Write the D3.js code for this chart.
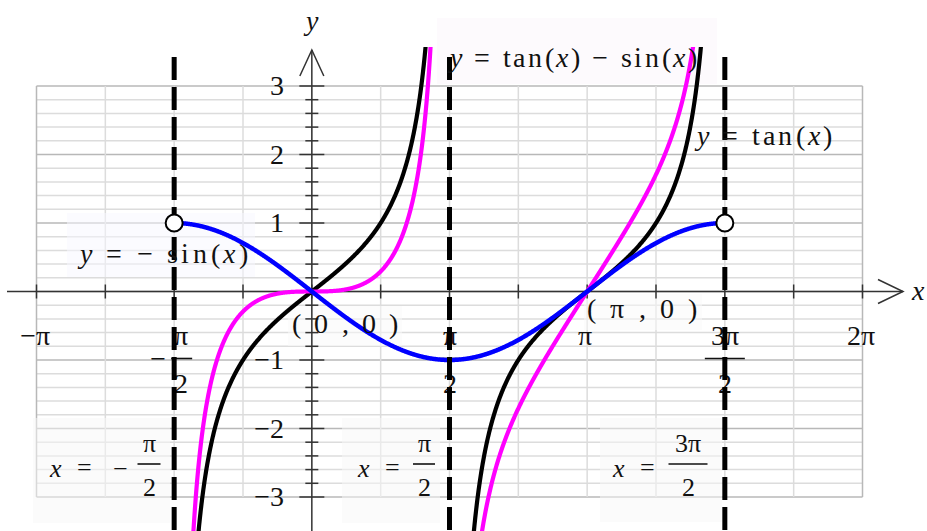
<!DOCTYPE html>
<meta charset="utf-8" />
<style>
  @font-face { font-family: "ChartSerif"; src: local("Liberation Serif"), local("LiberationSerif"), local("Times New Roman"); font-style: normal; }
  @font-face { font-family: "ChartSerif"; src: local("Liberation Serif Italic"), local("LiberationSerif-Italic"); font-style: italic; }
  body { margin: 0; }
  svg, svg text, svg tspan { font-family: "ChartSerif", "Liberation Serif", "Times New Roman", serif !important; }
</style>
<body>
<script src="https://cdn.jsdelivr.net/npm/d3@7/dist/d3.min.js"></script>
<script>
  var PI = Math.PI;

  // data
  var xDomain = [-PI, 2 * PI],
    yDomain = [-3, 3];
  var xGrid = d3.range(-4, 9).map(function(k) { return k * PI / 4; });
  var yGrid = d3.range(-15, 16).map(function(k) { return k / 5; });
  var yTickLabels = [3, 2, 1, -1, -2, -3];
  var xTickLabels = [
    { v: -PI, t: "\u2212\u03c0" },
    { v: PI, t: "\u03c0" },
    { v: 2 * PI, t: "2\u03c0" }
  ];
  var xFracLabels = [
    { v: -PI / 2, num: "\u03c0", sign: true },
    { v: PI / 2, num: "\u03c0", sign: false },
    { v: 3 * PI / 2, num: "3\u03c0", sign: false }
  ];
  var asymptotes = [-PI / 2, PI / 2, 3 * PI / 2];
  var holes = [[-PI / 2, 1], [3 * PI / 2, 1]];
  var curves = [
    { name: "tan", color: "#000000", branches: [[-PI / 2, PI / 2], [PI / 2, 3 * PI / 2]],
      f: function(x) { return Math.tan(x); } },
    { name: "tan-sin", color: "#ff00ff", branches: [[-PI / 2, PI / 2], [PI / 2, 3 * PI / 2]],
      f: function(x) { return Math.tan(x) - Math.sin(x); } },
    { name: "-sin", color: "#0000ff", branches: [[-PI / 2, 3 * PI / 2]],
      f: function(x) { return -Math.sin(x); } }
  ];

  var chartW = 927, chartH = 531;

  var xs = d3.scaleLinear().domain(xDomain).range([36.5, 862.5]);
  var ys = d3.scaleLinear().domain(yDomain).range([497, 86]);

  var svg = d3.select("body").append("svg")
    .attr("width", chartW)
    .attr("height", chartH)
    .attr("font-family", "Liberation Serif");

  svg.append("defs").append("clipPath").attr("id", "clip")
    .append("rect")
    .attr("x", 0).attr("y", 47)
    .attr("width", chartW).attr("height", chartH - 47);

  function isInt(d) { return Math.abs(d - Math.round(d)) < 1e-9; }

  // grid
  var grid = svg.append("g");
  grid.selectAll(".hg").data(yGrid).enter().append("line")
    .attr("x1", xs(xDomain[0])).attr("x2", xs(xDomain[1]))
    .attr("y1", function(d) { return ys(d); })
    .attr("y2", function(d) { return ys(d); })
    .attr("stroke", function(d) { return isInt(d) ? "#b8b8b8" : "#dcdcdc"; })
    .attr("stroke-width", 1.5);
  grid.selectAll(".vg").data(xGrid).enter().append("line")
    .attr("y1", ys(yDomain[0])).attr("y2", ys(yDomain[1]))
    .attr("x1", function(d) { return xs(d); })
    .attr("x2", function(d) { return xs(d); })
    .attr("stroke", function(d, i) { return i == 0 || i == xGrid.length - 1 ? "#b8b8b8" : "#dcdcdc"; })
    .attr("stroke-width", 1.5);

  // faint label boxes
  var boxes = [
    [437, 18, 280, 66, "#fcf5fc"],
    [67, 213, 188, 64, "#f7f7ff"],
    [288, 306, 114, 40, "#fafafa"],
    [584, 294, 118, 36, "#fafafa"],
    [33, 418, 137, 105, "#f8f8f8"],
    [342, 418, 98, 105, "#f8f8f8"],
    [600, 418, 122, 104, "#f8f8f8"]
  ];
  svg.append("g").selectAll("rect").data(boxes).enter().append("rect")
    .attr("x", function(d) { return d[0]; })
    .attr("y", function(d) { return d[1]; })
    .attr("width", function(d) { return d[2]; })
    .attr("height", function(d) { return d[3]; })
    .attr("fill", function(d) { return d[4]; })
    .attr("opacity", 0.5);

  // axes
  var axes = svg.append("g").attr("stroke", "#333").attr("fill", "none").attr("stroke-width", 1.5);
  axes.append("line").attr("x1", 7).attr("x2", 903).attr("y1", ys(0)).attr("y2", ys(0));
  axes.append("path").attr("d", "M878," + (ys(0) - 12) + "L903," + ys(0) + "L878," + (ys(0) + 12));
  axes.append("line").attr("x1", xs(0)).attr("x2", xs(0)).attr("y1", 50).attr("y2", chartH);
  axes.append("path").attr("d", "M" + (xs(0) - 12) + ",76L" + xs(0) + ",50L" + (xs(0) + 12) + ",76");

  axes.selectAll(".xt").data(xGrid).enter().append("line")
    .attr("x1", function(d) { return xs(d); })
    .attr("x2", function(d) { return xs(d); })
    .attr("y1", ys(0) - 7).attr("y2", ys(0) + 7);
  axes.selectAll(".yt").data(yGrid).enter().append("line")
    .attr("y1", function(d) { return ys(d); })
    .attr("y2", function(d) { return ys(d); })
    .attr("x1", function(d) { return xs(0) - (isInt(d) ? 12.5 : 6.5); })
    .attr("x2", function(d) { return xs(0) + (isInt(d) ? 12.5 : 6.5); });

  // tick labels
  var fs = 28;
  svg.append("g").selectAll("text").data(yTickLabels).enter().append("text")
    .attr("x", xs(0) - 28)
    .attr("y", function(d) { return ys(d) + 9; })
    .attr("text-anchor", "end")
    .attr("font-size", fs)
    .text(function(d) { return d < 0 ? "\u2212" + (-d) : d; });

  svg.append("g").selectAll("text").data(xTickLabels).enter().append("text")
    .attr("x", function(d) { return xs(d.v) - 2; })
    .attr("y", ys(0) + 53)
    .attr("text-anchor", "middle")
    .attr("font-size", fs)
    .text(function(d) { return d.t; });

  var frac = svg.append("g").selectAll("g").data(xFracLabels).enter().append("g")
    .attr("transform", function(d) { return "translate(" + (xs(d.v) + (d.sign ? 7 : 0)) + "," + ys(0) + ")"; });
  frac.append("text").attr("y", 53).attr("text-anchor", "middle").attr("font-size", fs)
    .text(function(d) { return d.num; });
  frac.append("line")
    .attr("x1", function(d) { return d.num.length > 1 ? -20 : -10; })
    .attr("x2", function(d) { return d.num.length > 1 ? 20 : 11; })
    .attr("y1", 67).attr("y2", 67)
    .attr("stroke", "#111").attr("stroke-width", 1.6);
  frac.append("text").attr("y", 101).attr("text-anchor", "middle").attr("font-size", fs).text("2");
  frac.filter(function(d) { return d.sign; }).append("text")
    .attr("x", -23).attr("y", 76).attr("text-anchor", "middle").attr("font-size", fs).text("\u2212");

  // curves
  var lineGen = d3.line()
    .x(function(d) { return xs(d[0]); })
    .y(function(d) { return ys(d[1]); });
  var plot = svg.append("g").attr("clip-path", "url(#clip)");
  curves.forEach(function(c) {
    c.branches.forEach(function(b) {
      var pts = d3.range(0, 1201).map(function(i) {
        var t = b[0] + (b[1] - b[0]) * (0.0005 + 0.999 * i / 1200);
        var v = Math.max(-6, Math.min(6, c.f(t)));
        return [t, v];
      });
      plot.append("path")
        .datum(pts)
        .attr("d", lineGen)
        .attr("fill", "none")
        .attr("stroke", c.color)
        .attr("stroke-width", c.name == "-sin" ? 4.5 : 4.2)
        .attr("stroke-linejoin", "round");
    });
  });

  // asymptotes
  svg.append("g").selectAll("line").data(asymptotes).enter().append("line")
    .attr("x1", function(d) { return xs(d); })
    .attr("x2", function(d) { return xs(d); })
    .attr("y1", 57).attr("y2", chartH)
    .attr("stroke", "#000")
    .attr("stroke-width", 5)
    .attr("stroke-dasharray", "23,7");

  // open end points
  svg.append("g").selectAll("circle").data(holes).enter().append("circle")
    .attr("cx", function(d) { return xs(d[0]); })
    .attr("cy", function(d) { return ys(d[1]); })
    .attr("r", 8.5)
    .attr("fill", "#fff")
    .attr("stroke", "#000")
    .attr("stroke-width", 2);

  // equation labels
  function eq(g, px, py, parts, len, size) {
    var t = g.append("text").attr("x", px).attr("y", py).attr("font-size", size || fs);
    parts.forEach(function(p) {
      t.append("tspan").style("font-style", p[1] ? "italic" : null).text(p[0]);
    });
    if (len) t.attr("textLength", len).attr("lengthAdjust", "spacing");
    return t;
  }
  var labels = svg.append("g");
  eq(labels, 450, 67, [["y", 1], [" = tan("], ["x", 1], [") \u2212 sin("], ["x", 1], [")"]], 247);
  eq(labels, 697, 145, [["y", 1], [" = tan("], ["x", 1], [")"]], 135);
  eq(labels, 80, 263, [["y", 1], [" = \u2212 sin("], ["x", 1], [")"]], 168);
  eq(labels, 292, 333, [["( 0 , 0 )"]], 106);
  eq(labels, 587, 318, [["( \u03c0 , 0 )"]], 110);

  // x = ... labels at bottom
  var bottomEqs = [
    { x0: 50, sign: true, cx: 149, num: "\u03c0", half: 11.5 },
    { x0: 358, sign: false, cx: 424, num: "\u03c0", half: 11 },
    { x0: 613, sign: false, cx: 688, num: "3\u03c0", half: 19.5 }
  ];
  var bfs = 26;
  bottomEqs.forEach(function(b) {
    eq(labels, b.x0, 477, [["x", 1], [" ="]], 42, bfs);
    if (b.sign) labels.append("text").attr("x", 120).attr("y", 477).attr("text-anchor", "middle")
      .attr("font-size", bfs).text("\u2212");
    labels.append("text").attr("x", b.cx).attr("y", 452).attr("text-anchor", "middle")
      .attr("font-size", bfs).text(b.num);
    labels.append("line").attr("x1", b.cx - b.half).attr("x2", b.cx + b.half)
      .attr("y1", 464).attr("y2", 464).attr("stroke", "#111").attr("stroke-width", 1.6);
    labels.append("text").attr("x", b.cx).attr("y", 496).attr("text-anchor", "middle")
      .attr("font-size", bfs).text("2");
  });

  // axis names
  labels.append("text").style("font-style", "italic").attr("x", 312).attr("y", 30)
    .attr("text-anchor", "middle").attr("font-size", fs).text("y");
  labels.append("text").style("font-style", "italic").attr("x", 912).attr("y", 300)
    .attr("font-size", fs).text("x");

  svg.selectAll("text").style("fill", "#111");
</script>
</body>
